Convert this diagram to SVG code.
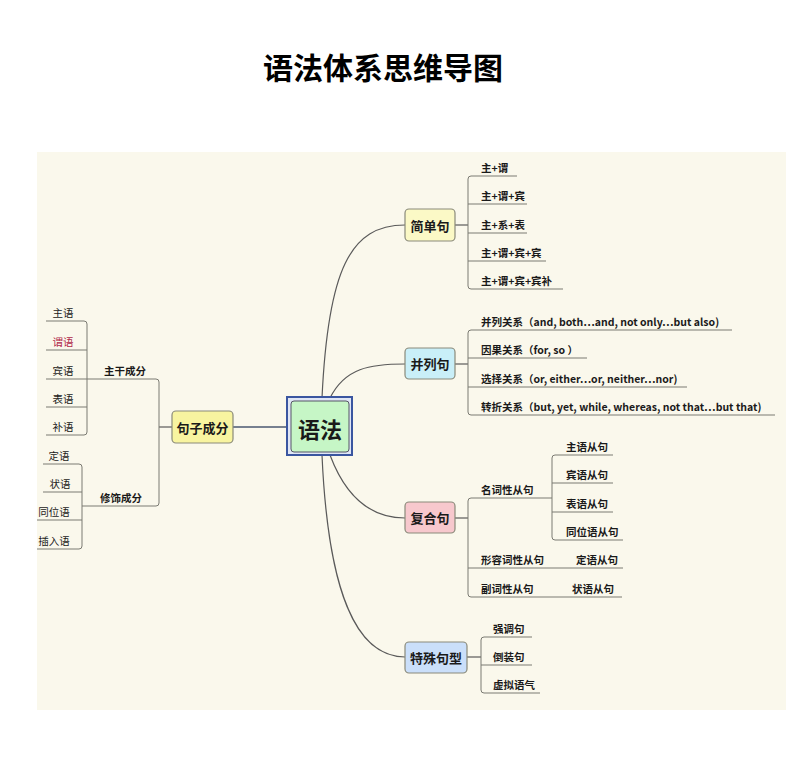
<svg xmlns="http://www.w3.org/2000/svg" width="809" height="762" viewBox="0 0 809 762">
<style>
text{font-family:"Noto Sans CJK SC","Liberation Sans",sans-serif;fill:#1a1a1a}
.node{stroke:#8a8a7a;stroke-width:1.2}
.lbl{font-size:13px;font-weight:bold;text-anchor:middle;dominant-baseline:central}
.leaf{font-size:10.5px;font-weight:bold}
.lleaf{font-size:10.5px;text-anchor:middle}
.c{fill:none;stroke:#5a5a5a;stroke-width:1.2}
.u{fill:none;stroke:#7a7a72;stroke-width:1}
</style>
<rect width="809" height="762" fill="#ffffff"/>
<rect x="37" y="152" width="749" height="558" fill="#faf8ec"/>
<text x="383" y="79" font-size="30" font-weight="bold" text-anchor="middle" style="fill:#000">语法体系思维导图</text>

<g id="connectors">
<path class="c" d="M322,398 C328,270 350,225 405,225"/>
<path class="c" d="M330,398 C345,368 370,364 405,364"/>
<path class="c" d="M330,455 C345,495 370,518 405,518"/>
<path class="c" d="M322,455 C328,590 355,657 405,657"/>
<path d="M233,427 H288" stroke="#4a5870" stroke-width="1.5" fill="none"/>
<path class="c" d="M159,427 H172"/>
<path class="u" d="M87,379 H156 Q159,379 159,382 V503 Q159,506 156,506 H82"/>
<path class="u" d="M46,321 H84 Q87,321 87,324 V432 Q87,435 84,435 H46"/>
<path class="u" d="M46,350 H87 M46,379 H87 M46,407 H87"/>
<path class="u" d="M43,464 H79 Q82,464 82,467 V546 Q82,549 79,549 H37"/>
<path class="u" d="M43,492 H82 M37,520 H82"/>
<path class="c" d="M455,225 H468"/>
<path class="u" d="M517,176 H471 Q468,176 468,179 V286 Q468,289 471,289 H563"/>
<path class="u" d="M468,204 H527 M468,233 H527 M468,261 H546"/>
<path class="c" d="M455,364 H468"/>
<path class="u" d="M732,330 H471 Q468,330 468,333 V412 Q468,415 471,415 H775"/>
<path class="u" d="M468,358 H587 M468,387 H687"/>
<path class="c" d="M455,518 H468"/>
<path class="u" d="M552,498 H471 Q468,498 468,501 V594 Q468,597 471,597 H622"/>
<path class="u" d="M468,568 H623"/>
<path class="u" d="M613,455 H555 Q552,455 552,458 V537 Q552,540 555,540 H623"/>
<path class="u" d="M552,483 H613 M552,512 H613"/>
<path class="c" d="M467,657 H481"/>
<path class="u" d="M532,637 H484 Q481,637 481,640 V690 Q481,693 484,693 H540"/>
<path class="u" d="M481,665 H532"/>
</g>

<g id="center">
<rect x="287" y="397" width="65" height="58" fill="#dfe6f5" stroke="#3a56a0" stroke-width="2"/>
<rect x="291" y="401" width="58" height="51" rx="3" fill="#c6f6c6" stroke="#556" stroke-width="1"/>
<text x="320" y="428" class="lbl" style="font-size:22px;font-weight:bold">语法</text>
</g>

<g id="n-juzi"><rect class="node" x="172" y="411" width="61" height="32" rx="4" fill="#f8f4a0"/><text class="lbl" x="202.5" y="427">句子成分</text></g>
<g id="n-jiandan"><rect class="node" x="405" y="209" width="50" height="32" rx="4" fill="#fbf9c6"/><text class="lbl" x="430" y="225">简单句</text></g>
<g id="n-binglie"><rect class="node" x="405" y="348" width="50" height="31" rx="4" fill="#c9eff8"/><text class="lbl" x="430" y="363.5">并列句</text></g>
<g id="n-fuhe"><rect class="node" x="405" y="502" width="50" height="31" rx="4" fill="#f7c8cd"/><text class="lbl" x="430" y="517.5">复合句</text></g>
<g id="n-teshu"><rect class="node" x="405" y="642" width="62" height="31" rx="4" fill="#cadffa"/><text class="lbl" x="436" y="657.5">特殊句型</text></g>

<g id="left-leaves">
<text class="leaf" x="125" y="375" text-anchor="middle">主干成分</text>
<text class="leaf" x="121" y="502" text-anchor="middle">修饰成分</text>
<text class="lleaf" x="63" y="317">主语</text>
<text class="lleaf" x="63" y="346" style="fill:#b0284a">谓语</text>
<text class="lleaf" x="63" y="375">宾语</text>
<text class="lleaf" x="63" y="403">表语</text>
<text class="lleaf" x="63" y="431">补语</text>
<text class="lleaf" x="59" y="460">定语</text>
<text class="lleaf" x="60" y="488">状语</text>
<text class="lleaf" x="54" y="516">同位语</text>
<text class="lleaf" x="54" y="545">插入语</text>
</g>

<g id="right-leaves">
<text class="leaf" x="481" y="172">主+谓</text>
<text class="leaf" x="481" y="200">主+谓+宾</text>
<text class="leaf" x="481" y="229">主+系+表</text>
<text class="leaf" x="481" y="257">主+谓+宾+宾</text>
<text class="leaf" x="481" y="285">主+谓+宾+宾补</text>
<text class="leaf" x="481" y="326">并列关系（and, both…and, not only…but also)</text>
<text class="leaf" x="481" y="354">因果关系（for, so ）</text>
<text class="leaf" x="481" y="383">选择关系（or, either…or, neither…nor)</text>
<text class="leaf" x="481" y="411">转折关系（but, yet, while, whereas, not that…but that)</text>
<text class="leaf" x="481" y="494">名词性从句</text>
<text class="leaf" x="566" y="451">主语从句</text>
<text class="leaf" x="566" y="479">宾语从句</text>
<text class="leaf" x="566" y="508">表语从句</text>
<text class="leaf" x="566" y="536">同位语从句</text>
<text class="leaf" x="481" y="564">形容词性从句</text>
<text class="leaf" x="576" y="564">定语从句</text>
<text class="leaf" x="481" y="593">副词性从句</text>
<text class="leaf" x="572" y="593">状语从句</text>
<text class="leaf" x="493" y="633">强调句</text>
<text class="leaf" x="493" y="661">倒装句</text>
<text class="leaf" x="493" y="689">虚拟语气</text>
</g>
</svg>
